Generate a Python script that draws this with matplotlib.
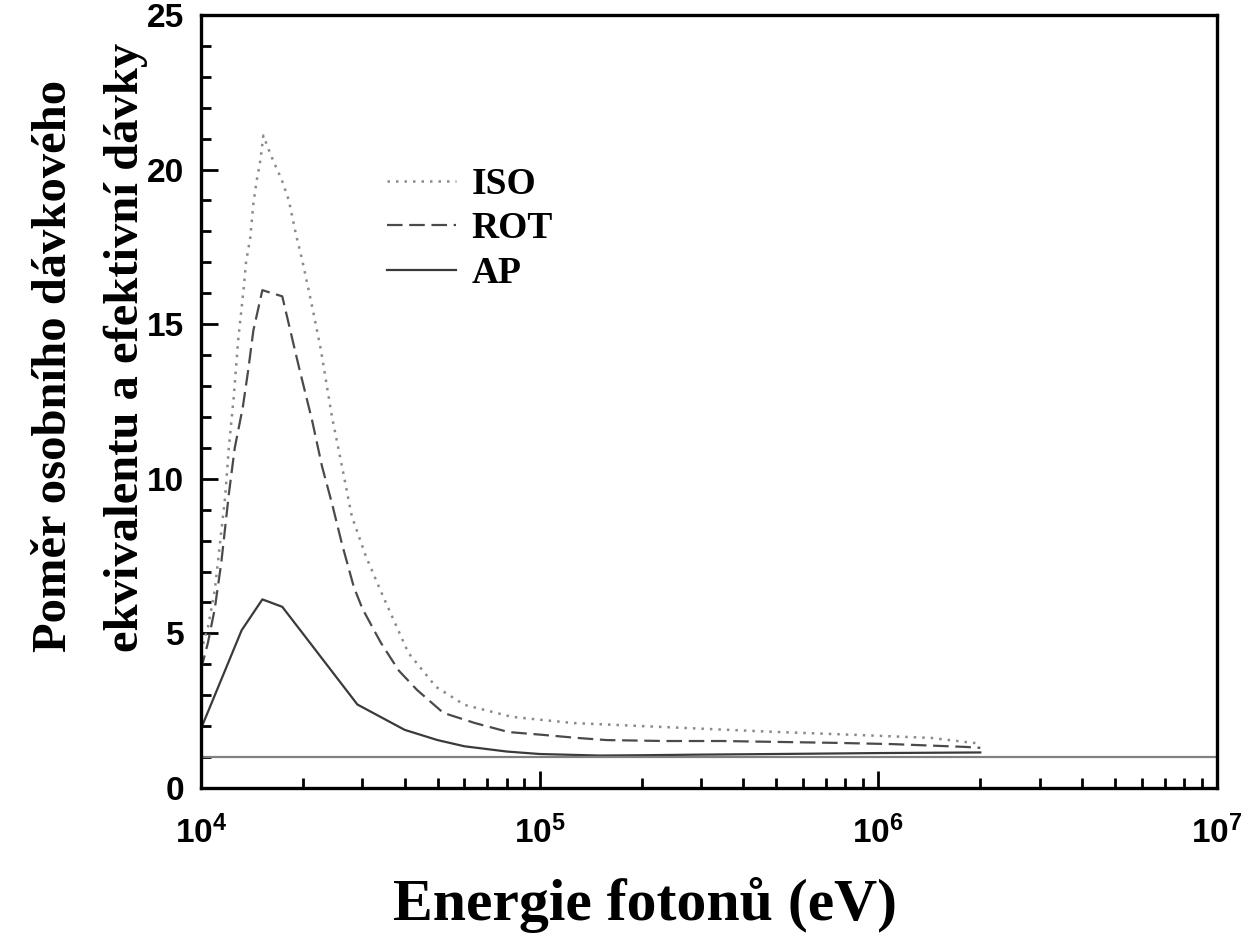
import numpy as np
import matplotlib
matplotlib.use("Agg")
import matplotlib.pyplot as plt
from matplotlib.ticker import FixedLocator, FuncFormatter, LogLocator, NullFormatter, MultipleLocator

plt.rcParams["mathtext.fontset"] = "custom"
plt.rcParams["mathtext.bf"] = "Liberation Sans:bold"
plt.rcParams["mathtext.rm"] = "Liberation Sans"

# energies in keV, ratios
iso_e = [10.0, 10.5, 11.0, 11.5, 11.8, 12.1, 12.5, 12.9, 13.4, 13.6, 14.0, 14.3, 14.6, 15.0, 15.3,
         15.8, 16.2, 16.8, 17.3, 18.2, 19.1, 19.9, 21.2, 22.6, 24.4, 25.9, 27.9, 30.7, 34.2,
         41, 49.5, 60, 83, 126, 235, 509, 850, 1430, 1900, 2000]
iso_r = [4.4, 5.2, 6.4, 8.3, 9.4, 11.0, 12.6, 14.5, 16.2, 17.0, 17.8, 18.9, 19.6, 20.3, 21.1,
         20.7, 20.4, 20.0, 19.7, 19.0, 17.9, 17.1, 15.7, 14.2, 12.0, 10.6, 8.8, 7.5, 6.3,
         4.37, 3.27, 2.69, 2.30, 2.10, 1.97, 1.81, 1.72, 1.62, 1.46, 1.45]

rot_e = [10.0, 10.5, 11.0, 11.5, 12.1, 12.6, 13.3, 13.8, 14.3, 15.2, 17.4, 19.5, 21.3, 22.8,
         24.4, 26.1, 28.3, 30, 34, 38.4, 43.5, 52, 64.5, 81, 102, 129, 158, 234, 345, 510,
         750, 1100, 1800, 2000]
rot_r = [3.8, 4.7, 5.8, 7.3, 9.5, 11.0, 12.3, 13.5, 14.8, 16.1, 15.9, 13.6, 11.9, 10.4,
         9.2, 7.9, 6.5, 5.8, 4.7, 3.8, 3.17, 2.43, 2.10, 1.81, 1.72, 1.62, 1.55, 1.52, 1.52, 1.49,
         1.46, 1.42, 1.33, 1.30]

ap_e = [10.0, 13.2, 15.2, 17.4, 20, 29, 40, 50, 60, 80, 100, 150, 200, 300, 500, 1000, 2000]
ap_r = [1.9, 5.1, 6.1, 5.86, 5.0, 2.7, 1.88, 1.55, 1.35, 1.18, 1.10, 1.05, 1.06, 1.08, 1.10, 1.13, 1.15]

ref_level = 1.0

fig = plt.figure(figsize=(12.47, 9.34), dpi=100)
ax = fig.add_axes([0.161, 0.1563, 0.815, 0.8277])

ev = lambda e: np.array(e) * 1000.0
ax.plot(ev(iso_e), iso_r, color="#8a8a8a", lw=1.8, linestyle=(0, (1, 2.4)), label="ISO")
ax.plot(ev(rot_e), rot_r, color="#4a4a4a", lw=1.6, linestyle=(0, (7, 3)), label="ROT")
ax.plot(ev(ap_e), ap_r, color="#3a3a3a", lw=1.6, label="AP")
ax.axhline(ref_level, color="#808080", lw=1.6)

ax.set_xscale("log")
ax.set_xlim(1e4, 1e7)
ax.set_ylim(0, 25)

ax.xaxis.set_major_locator(FixedLocator([1e4, 1e5, 1e6, 1e7]))
ax.xaxis.set_minor_locator(LogLocator(base=10, subs=np.arange(2, 10)))
ax.xaxis.set_minor_formatter(NullFormatter())
ax.xaxis.set_major_formatter(FuncFormatter(lambda v, p: r"$\mathbf{10^{%d}}$" % round(np.log10(v))))
ax.yaxis.set_major_locator(MultipleLocator(5))
ax.yaxis.set_minor_locator(MultipleLocator(1))

ax.tick_params(which="both", direction="in", top=False, right=False, width=2)
ax.tick_params(which="major", length=12, labelsize=24)
ax.tick_params(which="minor", length=7)
ax.tick_params(axis="x", which="major", pad=20)
ax.tick_params(axis="y", which="major", pad=12)
for lab in ax.get_yticklabels():
    lab.set_fontfamily("Liberation Sans")
    lab.set_fontweight("bold")

for s in ax.spines.values():
    s.set_linewidth(2.4)

ax.set_xlabel("Energie fotonů (eV)", fontfamily="Liberation Serif", fontweight="bold",
              fontsize=43)
ax.xaxis.set_label_coords(0.437, -0.115)
ax.set_ylabel("Poměr osobního dávkového\nekvivalentu a efektivní dávky",
              fontfamily="Liberation Serif", fontweight="bold", fontsize=35,
              linespacing=1.8, multialignment="left")
ax.yaxis.set_label_coords(-0.052, 0.57)

leg = ax.legend(loc="upper left", bbox_to_anchor=(0.15, 0.847), frameon=False,
                prop={"family": "Liberation Serif", "weight": "bold", "size": 27},
                handlelength=1.85, handletextpad=0.4, labelspacing=0.25)

fig.savefig("out.png", dpi=100)
